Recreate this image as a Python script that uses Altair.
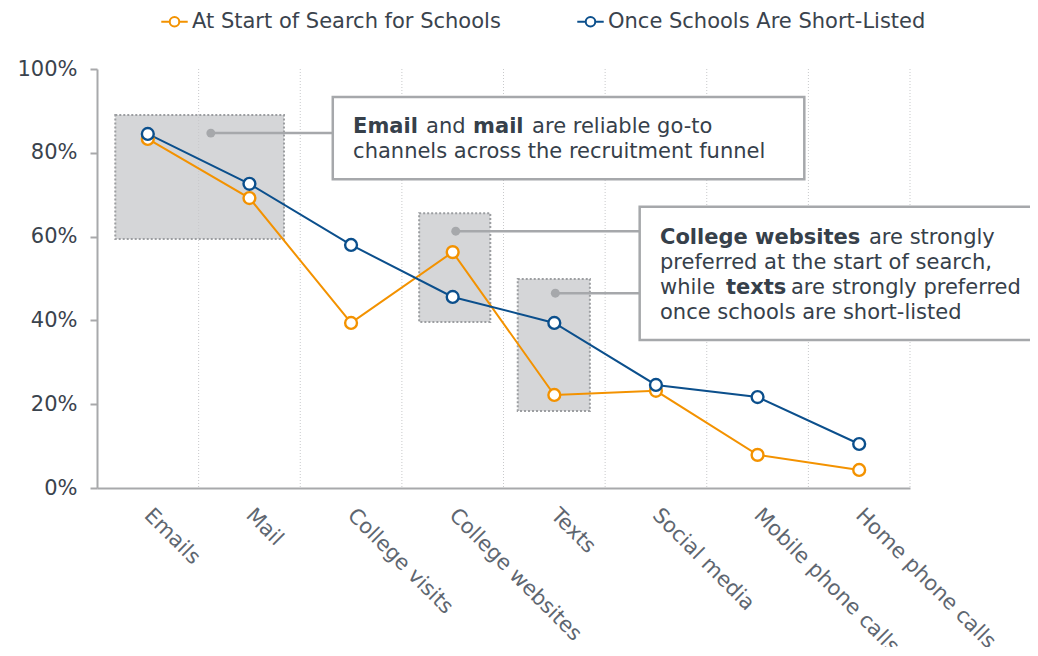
import json
import altair as alt
import pandas as pd

# ---------------- data ----------------
categories = ["Emails", "Mail", "College visits", "College websites", "Texts",
              "Social media", "Mobile phone calls", "Home phone calls"]
series_names = ["At Start of Search for Schools", "Once Schools Are Short-Listed"]
start_values = [83.3, 69.2, 39.4, 56.3, 22.2, 23.2, 7.9, 4.3]
shortlist_values = [84.5, 72.6, 58.0, 45.6, 39.4, 24.6, 21.7, 10.5]
y_ticks = [0, 20, 40, 60, 80, 100]

# highlight boxes (category-index units, percent units)
hl_x = [-0.32, 2.67, 3.64]
hl_x2 = [1.34, 3.37, 4.35]
hl_y = [59.4, 39.6, 18.4]
hl_y2 = [89.0, 65.6, 49.9]

# callout boxes
cb_x = [1.82, 4.84]
cb_x2 = [6.46, 8.80]
cb_y = [73.7, 35.3]
cb_y2 = [93.3, 67.1]

# connectors (dot -> callout box edge)
cn_x = [0.62, 3.03, 4.01]
cn_x2 = [1.82, 4.84, 4.84]
cn_y = [84.7, 61.3, 46.5]

# callout text segments
seg_text = ["Email", "and", "mail", "are reliable go-to",
            "channels across the recruitment funnel",
            "College websites", "are strongly",
            "preferred at the start of search,",
            "while", "texts", "are strongly preferred",
            "once schools are short-listed"]
seg_bold = [True, False, True, False, False,
            True, False, False,
            False, True, False, False]
seg_x = [2.02] * 5 + [5.04] * 7
seg_dx = [0, 73, 120, 179, 0,
          0, 209, 0,
          0, 66, 131, 0]
seg_y = [86.2, 86.2, 86.2, 86.2, 80.2,
         59.7, 59.7, 53.7, 47.8, 47.8, 47.8, 41.8]

ORANGE = "#F39200"
BLUE = "#0B4F8C"
GRAY = "#A6A8AB"
TXT = "#36404A"
FONT = "DejaVu Sans"
FS = 21

rows = []
for i, c in enumerate(categories):
    rows.append({"idx": i, "cat": c, "series": series_names[0], "v": start_values[i]})
    rows.append({"idx": i, "cat": c, "series": series_names[1], "v": shortlist_values[i]})
df = pd.DataFrame(rows)

xscale = alt.Scale(domain=[-0.5, len(categories) - 0.5], nice=False, zero=False)
yscale = alt.Scale(domain=[0, 100], nice=False)

label_expr = json.dumps(categories) + "[datum.value]"
xaxis = alt.Axis(
    values=list(range(len(categories))), labelExpr=label_expr,
    grid=False, ticks=False, domainColor="#A8A9AB", domainWidth=2,
    labelAngle=45, labelAlign="left", labelBaseline="top", labelPadding=16,
    labelOffset=7, labelLimit=0,
    labelFont=FONT, labelFontSize=FS, labelColor="#5E6670", title=None,
    labelOverlap=False, labelBound=False, labelFlush=False)
yaxis = alt.Axis(
    values=y_ticks, labelExpr="datum.value + '%'", grid=False,
    tickColor="#A8A9AB", tickSize=7, tickWidth=2, domainColor="#A8A9AB",
    domainWidth=2, labelPadding=13, labelFont=FONT, labelFontSize=FS,
    labelColor="#3A434D", title=None)


def X(field):
    return alt.X(field, scale=xscale, axis=xaxis, title=None)


def Y(field):
    return alt.Y(field, scale=yscale, axis=yaxis, title=None)


hl_df = pd.DataFrame({"x": hl_x, "x2": hl_x2, "y": hl_y, "y2": hl_y2})
cb_df = pd.DataFrame({"x": cb_x, "x2": cb_x2, "y": cb_y, "y2": cb_y2})
cn_df = pd.DataFrame({"x": cn_x, "x2": cn_x2, "y": cn_y})
grid_df = pd.DataFrame({"x": [i + 0.5 for i in range(len(categories))]})

hl = alt.Chart(hl_df).mark_rect(
    fill="#D5D6D8", stroke="#9C9EA1", strokeWidth=2, strokeDash=[2, 2]
).encode(x=X("x:Q"), x2="x2", y=Y("y:Q"), y2="y2")

grid = alt.Chart(grid_df).mark_rule(
    color="#C8C9CB", strokeWidth=1, strokeDash=[1, 2]
).encode(x=X("x:Q"), y=alt.value(0), y2=alt.value(419))

conn = alt.Chart(cn_df).mark_rule(color=GRAY, strokeWidth=2.5).encode(
    x=X("x:Q"), x2="x2", y=Y("y:Q"))
conn_dot = alt.Chart(cn_df).mark_point(
    filled=True, color=GRAY, size=80, opacity=1
).encode(x=X("x:Q"), y=Y("y:Q"))

cbox = alt.Chart(cb_df).mark_rect(fill="white", stroke=GRAY, strokeWidth=2.5).encode(
    x=X("x:Q"), x2="x2", y=Y("y:Q"), y2="y2")

seg_layers = []
for t, b, sx, sy, sdx in zip(seg_text, seg_bold, seg_x, seg_y, seg_dx):
    sdf = pd.DataFrame({"t": [t], "x": [sx], "y": [sy]})
    seg_layers.append(
        alt.Chart(sdf).mark_text(
            align="left", baseline="middle", font=FONT, fontSize=FS, dx=sdx,
            fontWeight="bold" if b else "normal", color=TXT
        ).encode(x=X("x:Q"), y=Y("y:Q"), text="t:N")
    )

symbol_path = ("M-1,0H-0.36M0.36,0H1"
               "M-0.36,0A0.36,0.36 0 1 1 0.36,0A0.36,0.36 0 1 1 -0.36,0")

color = alt.Color(
    "series:N", scale=alt.Scale(domain=series_names, range=[ORANGE, BLUE]),
    legend=alt.Legend(
        orient="none", legendX=63, legendY=-62, direction="horizontal",
        title=None, symbolType=symbol_path, symbolSize=700,
        symbolStrokeWidth=2, symbolFillColor="white", labelLimit=0,
        labelFont=FONT, labelFontSize=FS, labelColor="#3A434D",
        columnPadding=72, labelOffset=3))

lines = alt.Chart(df).mark_line(strokeWidth=2).encode(
    x=X("idx:Q"), y=Y("v:Q"), color=color, order="idx:Q")
pts = alt.Chart(df).mark_point(
    shape="circle", filled=False, fill="white", fillOpacity=1, opacity=1,
    size=140, strokeWidth=2.4
).encode(x=X("idx:Q"), y=Y("v:Q"), color=color)

chart = alt.layer(
    hl, grid, conn, cbox, conn_dot, *seg_layers, lines, pts
).properties(
    width=813, height=419,
    autosize=alt.AutoSizeParams(type="none"),
    padding={"left": 89, "top": 61, "right": 120, "bottom": 159},
).configure_view(stroke=None)

chart.save("out.html", embed_options={"renderer": "svg", "actions": False})
